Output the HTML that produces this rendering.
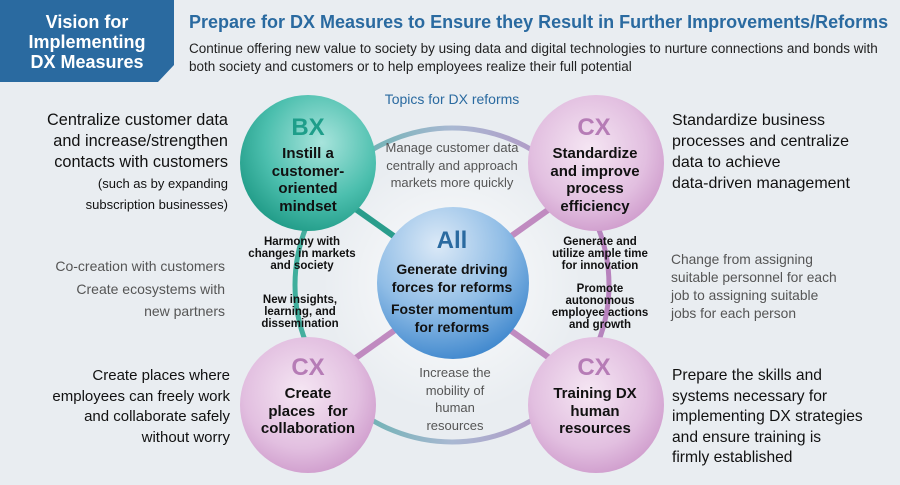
<!DOCTYPE html>
<html><head><meta charset="utf-8"><style>
body{margin:0;width:900px;height:485px;overflow:hidden;background:#e9edf1;font-family:"Liberation Sans",Arial,sans-serif;position:relative}
.t{position:absolute;white-space:nowrap}
.r{text-align:right}
.c{text-align:center;transform:translateX(-50%)}
.b{font-weight:bold}
</style></head><body>
<svg width="900" height="485" style="position:absolute;left:0;top:0">
<defs>
<radialGradient id="bx" cx="0.6" cy="0.35" r="0.7"><stop offset="0" stop-color="#a8e4dc"/><stop offset="0.6" stop-color="#4cbfae"/><stop offset="1" stop-color="#1f9a86"/></radialGradient>
<radialGradient id="cx" cx="0.45" cy="0.4" r="0.7"><stop offset="0" stop-color="#f5e6f3"/><stop offset="0.6" stop-color="#e2bfe0"/><stop offset="1" stop-color="#c991c6"/></radialGradient>
<radialGradient id="al" cx="0.4" cy="0.25" r="0.8"><stop offset="0" stop-color="#dbe9f7"/><stop offset="0.55" stop-color="#90bde6"/><stop offset="1" stop-color="#3a84cc"/></radialGradient>
<radialGradient id="glow" cx="0.5" cy="0.5" r="0.5"><stop offset="0" stop-color="#ffffff" stop-opacity="0.9"/><stop offset="1" stop-color="#ffffff" stop-opacity="0"/></radialGradient>
<linearGradient id="ring" x1="0" y1="0" x2="1" y2="0"><stop offset="0" stop-color="#3fae9c"/><stop offset="0.5" stop-color="#a9b8d2"/><stop offset="1" stop-color="#b782bd"/></linearGradient>
</defs>
<polygon points="0,0 174,0 174,65 158,82 0,82" fill="#2a6aa0"/>
<circle cx="452" cy="283" r="130" fill="url(#glow)"/>
<circle cx="452" cy="285" r="157" fill="none" stroke="url(#ring)" stroke-width="5"/>
<line x1="350" y1="205" x2="395" y2="237" stroke="#2a9d8c" stroke-width="6"/>
<line x1="555" y1="205" x2="510" y2="237" stroke="#c08ac0" stroke-width="6"/>
<line x1="350" y1="362" x2="395" y2="330" stroke="#c08ac0" stroke-width="6"/>
<line x1="555" y1="362" x2="510" y2="330" stroke="#c08ac0" stroke-width="6"/>
<circle cx="308" cy="163" r="68" fill="url(#bx)"/>
<circle cx="596" cy="163" r="68" fill="url(#cx)"/>
<circle cx="308" cy="405" r="68" fill="url(#cx)"/>
<circle cx="596" cy="405" r="68" fill="url(#cx)"/>
<circle cx="453" cy="283" r="76" fill="url(#al)"/>
</svg>
<div class="t c b" style="left:87px;top:12px;color:#fff;font-size:18px;line-height:20px">Vision for<br>Implementing<br>DX Measures</div>
<div class="t b" style="left:189px;top:12px;color:#2a6aa0;font-size:18px">Prepare for DX Measures to Ensure they Result in Further Improvements/Reforms</div>
<div class="t" style="left:189px;top:40px;font-size:13.5px;line-height:18px;color:#222">Continue offering new value to society by using data and digital technologies to nurture connections and bonds with<br>both society and customers or to help employees realize their full potential</div>
<div class="t c" style="left:452px;top:91px;color:#2a6aa0;font-size:14px">Topics for DX reforms</div>

<div class="t r" style="right:672px;top:110px;font-size:16.3px;line-height:21px;color:#111">Centralize customer data<br>and increase/strengthen<br>contacts with customers<br><span style="font-size:13px">(such as by expanding<br>subscription businesses)</span></div>
<div class="t r" style="right:675px;top:257px;font-size:14px;line-height:19px;color:#555">Co-creation with customers<br><span style="line-height:26px">Create ecosystems with</span><br>new partners</div>
<div class="t r" style="right:670px;top:366px;font-size:15px;line-height:20.5px;color:#111">Create places where<br>employees can freely work<br>and collaborate safely<br>without worry</div>

<div class="t" style="left:672px;top:110px;font-size:16px;line-height:21px;color:#111">Standardize business<br>processes and centralize<br>data to achieve<br>data-driven management</div>
<div class="t" style="left:671px;top:251px;font-size:13.8px;line-height:18px;color:#555">Change from assigning<br>suitable personnel for each<br>job to assigning suitable<br>jobs for each person</div>
<div class="t" style="left:672px;top:366px;font-size:15.6px;line-height:20.5px;color:#111">Prepare the skills and<br>systems necessary for<br>implementing DX strategies<br>and ensure training is<br>firmly established</div>

<div class="t c b" style="left:308px;top:114px;color:#1e9e8a;font-size:24px">BX</div>
<div class="t c b" style="left:308px;top:145px;font-size:15px;line-height:17.5px;color:#111">Instill a<br>customer-<br>oriented<br>mindset</div>
<div class="t c b" style="left:594px;top:114px;color:#b67cb6;font-size:24px">CX</div>
<div class="t c b" style="left:595px;top:145px;font-size:15px;line-height:17.5px;color:#111">Standardize<br>and improve<br>process<br>efficiency</div>
<div class="t c b" style="left:308px;top:354px;color:#b67cb6;font-size:24px">CX</div>
<div class="t c b" style="left:308px;top:385px;font-size:15px;line-height:17.5px;color:#111">Create<br>places &nbsp; for<br>collaboration</div>
<div class="t c b" style="left:594px;top:354px;color:#b67cb6;font-size:24px">CX</div>
<div class="t c b" style="left:595px;top:385px;font-size:15px;line-height:17.5px;color:#111">Training DX<br>human<br>resources</div>

<div class="t c b" style="left:452px;top:227px;color:#2a6aa0;font-size:24px">All</div>
<div class="t c b" style="left:452px;top:261px;font-size:14px;line-height:17.5px;color:#111">Generate driving<br>forces for reforms</div>
<div class="t c b" style="left:452px;top:301px;font-size:14px;line-height:17.5px;color:#111">Foster momentum<br>for reforms</div>

<div class="t c" style="left:452px;top:139px;font-size:13px;line-height:17.5px;color:#555">Manage customer data<br>centrally and approach<br>markets more quickly</div>
<div class="t c b" style="left:302px;top:236px;font-size:11.5px;line-height:12px;color:#111">Harmony with<br>changes in markets<br>and society</div>
<div class="t c b" style="left:300px;top:294px;font-size:11.5px;line-height:12px;color:#111">New insights,<br>learning, and<br>dissemination</div>
<div class="t c b" style="left:600px;top:236px;font-size:11.5px;line-height:12px;color:#111">Generate and<br>utilize ample time<br>for innovation</div>
<div class="t c b" style="left:600px;top:283px;font-size:11.5px;line-height:12px;color:#111">Promote<br>autonomous<br>employee actions<br>and growth</div>
<div class="t c" style="left:455px;top:364px;font-size:13px;line-height:17.7px;color:#555">Increase the<br>mobility of<br>human<br>resources</div>
</body></html>
